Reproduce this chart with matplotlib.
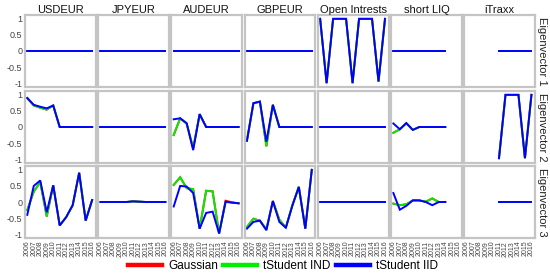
import numpy as np
import matplotlib
matplotlib.use("Agg")
import matplotlib.pyplot as plt

plt.rcParams['font.family'] = ['Liberation Sans', 'DejaVu Sans']

nan = np.nan
years = list(range(2006, 2017))
columns = ["USDEUR", "JPYEUR", "AUDEUR", "GBPEUR", "Open Intrests", "short LIQ", "iTraxx"]
row_labels = ["Eigenvector 1", "Eigenvector 2", "Eigenvector 3"]
series_names = ["Gaussian", "tStudent IND", "tStudent IID"]
series_colors = ["#ff0000", "#00ee00", "#0000ff"]

zeros = [0.0] * 11
liq_zeros = [0.0] * 9 + [nan, nan]
itraxx_zeros = [nan] * 5 + [0.0] * 6

# Eigenvector 1 (identical for all three models)
open_ev1 = [1.0, -1.0, 1.0, 1.0, 1.0, -1.0, 1.0, 1.0, 1.0, -0.95, 1.0]
ev1 = [zeros, zeros, zeros, zeros, open_ev1, liq_zeros, itraxx_zeros]

# Eigenvector 2
usd_ev2_iid = [0.90, 0.69, 0.63, 0.58, 0.67, 0, 0, 0, 0, 0, 0]
usd_ev2_ind = [0.90, 0.67, 0.60, 0.54, 0.67, 0, 0, 0, 0, 0, 0]
aud_ev2_iid = [0.24, 0.27, 0.12, -0.72, 0.40, 0, 0, 0, 0, 0, 0]
aud_ev2_ind = [-0.25, 0.27, 0.10, -0.66, 0.40, 0, 0, 0, 0, 0, 0]
gbp_ev2_iid = [-0.43, 0.74, 0.79, -0.46, 0.69, 0, 0, 0, 0, 0, 0]
gbp_ev2_ind = [-0.43, 0.74, 0.79, -0.60, 0.69, 0, 0, 0, 0, 0, 0]
liq_ev2_iid = [0.11, -0.07, 0.12, -0.09, 0, 0, 0, 0, 0, nan, nan]
liq_ev2_ind = [-0.18, -0.07, 0.12, -0.09, 0, 0, 0, 0, 0, nan, nan]
itraxx_ev2 = [nan, nan, nan, nan, nan, -0.97, 1.0, 1.0, 1.0, -0.97, 1.0]

ev2_iid = [usd_ev2_iid, zeros, aud_ev2_iid, gbp_ev2_iid, zeros, liq_ev2_iid, itraxx_ev2]
ev2_ind = [usd_ev2_ind, zeros, aud_ev2_ind, gbp_ev2_ind, zeros, liq_ev2_ind, itraxx_ev2]
ev2_gauss = ev2_ind

# Eigenvector 3
usd_ev3_iid = [-0.40, 0.50, 0.67, -0.32, 0.52, -0.73, -0.47, -0.10, 0.91, -0.58, 0.06]
usd_ev3_ind = [-0.25, 0.32, 0.62, -0.45, 0.52, -0.73, -0.47, -0.10, 0.91, -0.58, 0.06]
jpy_ev3 = [0, 0, 0, 0, 0, 0.02, 0.01, 0, 0, 0, 0]
aud_ev3_iid = [-0.14, 0.50, 0.48, 0.28, -0.83, -0.34, -0.30, -0.98, 0.01, -0.02, -0.04]
aud_ev3_ind = [0.53, 0.77, 0.43, 0.40, -0.83, 0.35, 0.33, -0.98, 0.0, -0.02, -0.04]
aud_ev3_gauss = [0.53, 0.77, 0.43, 0.40, -0.83, 0.35, 0.33, -0.98, 0.04, -0.01, -0.04]
gbp_ev3_iid = [-0.83, -0.62, -0.58, -0.88, 0.03, -0.62, -0.80, -0.12, 0.47, -0.83, 1.0]
gbp_ev3_ind = [-0.78, -0.52, -0.58, -0.85, 0.03, -0.55, -0.80, -0.10, 0.47, -0.83, 1.0]
liq_ev3_iid = [0.28, -0.24, -0.12, 0.05, 0.05, 0.0, -0.10, 0.0, 0.0, nan, nan]
liq_ev3_ind = [-0.05, -0.10, -0.07, 0.05, 0.05, 0.01, 0.11, 0.0, 0.0, nan, nan]

ev3_iid = [usd_ev3_iid, jpy_ev3, aud_ev3_iid, gbp_ev3_iid, zeros, liq_ev3_iid, itraxx_zeros]
ev3_ind = [usd_ev3_ind, jpy_ev3, aud_ev3_ind, gbp_ev3_ind, zeros, liq_ev3_ind, itraxx_zeros]
ev3_gauss = [usd_ev3_ind, jpy_ev3, aud_ev3_gauss, gbp_ev3_ind, zeros, liq_ev3_ind, itraxx_zeros]

data = [
    [ev1, ev1, ev1],
    [ev2_gauss, ev2_ind, ev2_iid],
    [ev3_gauss, ev3_ind, ev3_iid],
]

W, H = 550, 276
fig = plt.figure(figsize=(W / 100, H / 100), dpi=100)

left0, right0 = 25, 535
gapx = 2.5
pw = (right0 - left0 - 6 * gapx) / 7
row_tops = [15, 91, 166]
ph = 72

frame_color = "#c4c4c4"
txt_gray = "#444444"

lines_for_legend = []
for r in range(3):
    for c in range(7):
        x0 = left0 + c * (pw + gapx)
        y0 = H - row_tops[r] - ph
        ax = fig.add_axes([x0 / W, y0 / H, pw / W, ph / H])
        for s in range(3):
            ln, = ax.plot(years, data[r][s][c], color=series_colors[s], lw=1.4,
                          solid_joinstyle='miter')
            if r == 0 and c == 0:
                lines_for_legend.append(ln)
        ax.set_xlim(2005.65, 2016.55)
        ax.set_ylim(-1.12, 1.12)
        for sp in ax.spines.values():
            sp.set_color(frame_color)
            sp.set_linewidth(1.6)
        ax.tick_params(length=0, pad=2)
        ax.set_yticks([-1, -0.5, 0, 0.5, 1])
        if c == 0:
            ax.set_yticklabels(["-1", "-0.5", "0", "0.5", "1"],
                               fontsize=6.5, color=txt_gray)
        else:
            ax.set_yticklabels([])
        ax.set_xticks(years)
        if r == 2:
            ax.set_xticklabels([str(y) for y in years], rotation=90,
                               fontsize=5, color=txt_gray)
        else:
            ax.set_xticklabels([])
        if r == 0:
            ax.set_title(columns[c], fontsize=8, pad=1.5, color="#111111")
        if c == 6:
            ax.yaxis.set_label_position("right")
            ax.set_ylabel(row_labels[r], rotation=-90, fontsize=8,
                          labelpad=9, color="#222222")

fig.legend(lines_for_legend, series_names, loc="center", ncol=3,
           bbox_to_anchor=(283 / W, 1 - 266 / H), frameon=False,
           fontsize=8.5, handlelength=2.9, handletextpad=0.5,
           columnspacing=0.45)
for ln in fig.legends[0].get_lines():
    ln.set_linewidth(3.2)

fig.savefig("out.png", dpi=100)
